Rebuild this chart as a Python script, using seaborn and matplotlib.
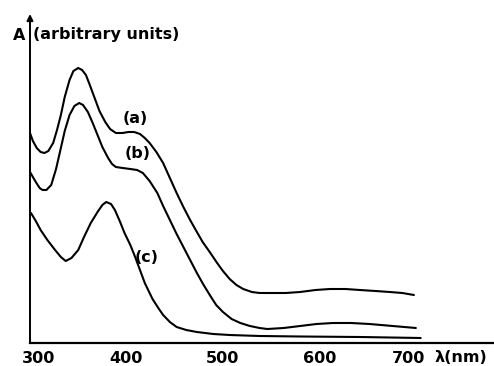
import pandas as pd
import matplotlib
matplotlib.use("Agg")
import matplotlib.pyplot as plt
import matplotlib.transforms as mtransforms
import seaborn as sns

# Absorption spectra (arbitrary units)
wl_a = [300, 303, 307, 311, 315, 319, 324, 328, 332, 336, 341, 345, 350, 354, 358, 362,
        367, 372, 378, 383, 389, 396, 402, 408, 414, 419, 424, 431, 438, 445, 452, 459,
        466, 473, 479, 487, 494, 500, 507, 514, 521, 530, 538, 549, 565, 580, 596, 611,
        627, 642, 658, 673, 686, 698]
abs_a = [2.10, 2.02, 1.95, 1.91, 1.90, 1.92, 2.00, 2.13, 2.28, 2.46, 2.63, 2.72, 2.75, 2.73,
         2.68, 2.58, 2.45, 2.32, 2.21, 2.14, 2.10, 2.10, 2.11, 2.11, 2.09, 2.05, 2.00, 1.91,
         1.80, 1.65, 1.50, 1.36, 1.23, 1.11, 1.01, 0.90, 0.80, 0.72, 0.64, 0.58, 0.54, 0.51,
         0.50, 0.50, 0.50, 0.51, 0.53, 0.54, 0.54, 0.53, 0.52, 0.51, 0.50, 0.48]

wl_b = [300, 303, 306, 310, 313, 317, 322, 327, 332, 336, 341, 346, 351, 355, 360, 365,
        370, 375, 381, 385, 389, 396, 404, 411, 417, 424, 432, 438, 445, 452, 459, 466,
        473, 480, 487, 493, 500, 509, 518, 528, 538, 546, 563, 580, 597, 614, 633, 652,
        676, 700]
abs_b = [1.71, 1.66, 1.61, 1.55, 1.53, 1.53, 1.58, 1.74, 1.95, 2.12, 2.28, 2.37, 2.40, 2.38,
         2.31, 2.20, 2.08, 1.96, 1.85, 1.79, 1.76, 1.75, 1.74, 1.73, 1.70, 1.62, 1.50, 1.37,
         1.23, 1.09, 0.96, 0.83, 0.70, 0.58, 0.47, 0.38, 0.31, 0.24, 0.20, 0.17, 0.15, 0.14,
         0.15, 0.17, 0.19, 0.20, 0.20, 0.19, 0.17, 0.15]

wl_c = [301, 306, 311, 318, 326, 332, 337, 343, 350, 356, 363, 370, 375, 379, 384, 388,
        393, 398, 404, 409, 414, 419, 427, 433, 438, 445, 452, 462, 473, 490, 507, 538,
        580, 642, 705]
abs_c = [1.30, 1.22, 1.13, 1.03, 0.93, 0.86, 0.82, 0.85, 0.93, 1.06, 1.20, 1.31, 1.38, 1.41,
         1.39, 1.33, 1.22, 1.10, 0.98, 0.86, 0.73, 0.60, 0.44, 0.35, 0.28, 0.21, 0.16, 0.13,
         0.11, 0.09, 0.08, 0.07, 0.065, 0.06, 0.05]

curve_names = ["(a)", "(b)", "(c)"]
label_pos = [(409, 2.24), (412, 1.90), (421, 0.85)]
xticks = [300, 400, 500, 600, 700]

df = pd.concat([
    pd.DataFrame({"wl": wl_a, "A": abs_a, "curve": "(a)"}),
    pd.DataFrame({"wl": wl_b, "A": abs_b, "curve": "(b)"}),
    pd.DataFrame({"wl": wl_c, "A": abs_c, "curve": "(c)"}),
])

sns.set_style("white")
plt.rcParams["font.family"] = ["DejaVu Sans"]
plt.rcParams["font.weight"] = "bold"
plt.rcParams["text.color"] = "black"
plt.rcParams["xtick.color"] = "black"

fig = plt.figure(figsize=(4.94, 3.66), dpi=100)
ax = fig.add_axes([30 / 494, 23 / 366, 464 / 494, 329 / 366])

sns.lineplot(data=df, x="wl", y="A", hue="curve", palette=["black"] * 3,
             legend=False, linewidth=1.5, ax=ax, sort=False)

for name, (lx, ly) in zip(curve_names, label_pos):
    ax.text(lx, ly, name, ha="center", va="center", fontsize=11.5, fontweight="bold",
            color="black")

ax.set_xlim(300, 781)
ax.set_ylim(0, 3.29)
ax.set_xticks(xticks)
ax.set_xticklabels([str(t) for t in xticks], fontsize=11.5, fontweight="bold")
ax.set_yticks([])
ax.set_xlabel("")
ax.set_ylabel("")
ax.tick_params(axis="x", direction="in", length=4, width=1.2, pad=6, colors="black")
# nudge the end tick labels as in the original
labels = ax.get_xticklabels()
for lab, dx in [(labels[0], 9), (labels[-1], -7)]:
    off = mtransforms.ScaledTranslation(dx / 100, 0, fig.dpi_scale_trans)
    lab.set_transform(lab.get_transform() + off)

for s in ["top", "right", "left"]:
    ax.spines[s].set_visible(False)
ax.spines["bottom"].set_linewidth(1.6)
ax.spines["bottom"].set_color("black")
ax.annotate("", xy=(0, 1.0), xytext=(0, 0), xycoords="axes fraction",
            arrowprops=dict(arrowstyle="-|>", lw=1.4, color="black", mutation_scale=9,
                            shrinkA=0, shrinkB=0))

fig.text(19 / 494, 1 - 35 / 366, "A", ha="center", va="center", fontsize=11.5,
         fontweight="bold")
fig.text(33 / 494, 1 - 35 / 366, "(arbitrary units)", ha="left", va="center",
         fontsize=11.5, fontweight="bold")
fig.text(434 / 494, 1 - 358 / 366, "λ(nm)", ha="left", va="center",
         fontsize=11.5, fontweight="bold")

fig.savefig("out.png", dpi=100)
